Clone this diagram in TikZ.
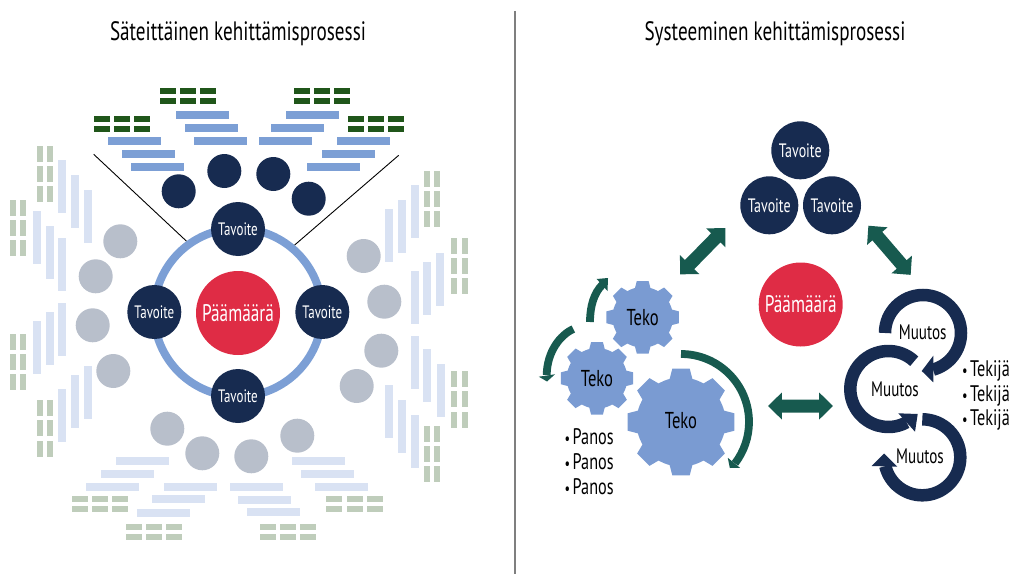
\documentclass[tikz,border=0pt]{standalone}
\usepackage{fontspec}
\setmainfont[FakeStretch=0.72]{PT Sans}
\usetikzlibrary{calc}
\definecolor{navy}{HTML}{172B50}
\definecolor{redc}{HTML}{DF2C45}
\definecolor{barblue}{HTML}{7C9FD5}
\definecolor{gearblue}{HTML}{7A9BD2}
\definecolor{lightblue}{HTML}{D9E2F3}
\definecolor{greyc}{HTML}{B8BFCB}
\definecolor{darkgreen}{HTML}{20561A}
\definecolor{lightgreen}{HTML}{BFCDBB}
\definecolor{teal2}{HTML}{175A4F}
\definecolor{divider}{HTML}{7F7F7F}
\tikzset{
  titletext/.style={font=\fontsize{26.6}{30}\selectfont,text=black,inner sep=0pt},
  bluedisc/.style={circle,fill=navy,inner sep=0pt,minimum size=#1,text=white},
  greydisc/.style={circle,fill=greyc,inner sep=0pt,minimum size=34pt},
  reddisc/.style={circle,fill=redc,inner sep=0pt,minimum size=84pt,text=white,font=\fontsize{24}{26}\selectfont},
  smalltv/.style={font=\fontsize{18}{20}\selectfont},
  bigtv/.style={font=\fontsize{19.4}{22}\selectfont},
  labeltext/.style={font=\fontsize{21}{24}\selectfont,text=black,inner sep=0pt},
  tekotext/.style={font=\fontsize{23}{26}\selectfont,text=black,inner sep=0pt},
  listtext/.style={font=\fontsize{22.5}{26}\selectfont,text=black,inner sep=0pt,anchor=west},
  spoke/.style={draw=black,line width=0.9pt},
  ringline/.style={draw=barblue,line width=8pt},
  tealarc/.style={draw=teal2,line width=7.8pt},
  navyarc/.style={draw=navy,line width=12.5pt},
}
\newcommand\lb{{\fontsize{17}{17}\selectfont •}\hspace{2.5pt}}
\newcommand\hbars[2]{\foreach \bx/\by in {#2} \fill[#1] (\bx,\by) rectangle ++(53,8);}
\newcommand\vbars[2]{\foreach \bx/\by in {#2} \fill[#1] (\bx,\by) rectangle ++(8,53);}
\newcommand\hgreen[3]{\foreach \bx in {#2} \foreach \by in {#3} \fill[#1] (\bx,\by) rectangle ++(16,6);}
\newcommand\vgreen[3]{\foreach \bx in {#2} \foreach \by in {#3} \fill[#1] (\bx,\by) rectangle ++(6,16);}
\newcommand\dblarrow[3]{%
  \begin{scope}[shift={(#1,#2)},rotate=#3]
  \fill[teal2] (-32.4,0) -- (-18.7,13.5) -- (-18.7,6.5) -- (18.7,6.5) -- (18.7,13.5) -- (32.4,0)
    -- (18.7,-13.5) -- (18.7,-6.5) -- (-18.7,-6.5) -- (-18.7,-13.5) -- cycle;
  \end{scope}}
\newcommand\gearshape[3]{%
  \fill[gearblue] (#1,#2) circle [radius=0.825*#3];
  \foreach \ga in {0,45,...,315}
    \fill[gearblue] (#1,#2) -- ++(\ga-15:0.82*#3) -- ($(#1,#2)+(\ga-9.3:#3)$) -- ($(#1,#2)+(\ga+9.3:#3)$) -- ($(#1,#2)+(\ga+15:0.82*#3)$) -- cycle;}
\begin{document}
\begin{tikzpicture}[x=1pt,y=-1pt]
\useasboundingbox (0,0) rectangle (1011,575);
% divider
\coordinate (dtop) at (515,11); \coordinate (dbot) at (515,574);
\draw[divider,line width=1.5pt] (dtop) -- (dbot);
% titles
\node[titletext] (t1) at (238,34) {Säteittäinen kehittämisprosessi};
\node[titletext] (t2) at (775,34) {Systeeminen kehittämisprosessi};
% --- left diagram: bars
\hbars{barblue}{108/137,122/150,131/163,176/111,185/124,194/137,286/111,271/124,259/137,337/137,322/150,307/163}
\hgreen{darkgreen}{160,180,200}{88,98}
\hgreen{darkgreen}{94,114,134}{116,126}
\hgreen{darkgreen}{294,314,334}{88,98}
\hgreen{darkgreen}{348,368,388}{116,126}
\vbars{lightblue}{58/160,71/175,84/190,33/211,46/226,58/238,58/303,46/312,33/321,84/366,71/375,58/389}
\vgreen{lightgreen}{37,47}{146,166,186}
\vgreen{lightgreen}{10,20}{200,220,240}
\vgreen{lightgreen}{10,20}{334,354,374}
\vgreen{lightgreen}{37,47}{400,420,441}
\vbars{lightblue}{385/209,398/200,411/185,411/271,423/262,436/253,411/336,423/349,437/364,385/385,398/400,411/415}
\vgreen{lightgreen}{424,434}{171,191,211}
\vgreen{lightgreen}{451,462}{238,258,278}
\vgreen{lightgreen}{451,462}{371,391,412}
\vgreen{lightgreen}{424,434}{426,446,466}
\hbars{lightblue}{116/457,101/470,86/483,164/483,152/495,137/509,230/483,238/496,247/508,292/457,301/470,315/483}
\hgreen{lightgreen}{72,92,112}{496,506}
\hgreen{lightgreen}{126,146,166}{524,534}
\hgreen{lightgreen}{326,347,367}{496,506}
\hgreen{lightgreen}{260,280,300}{524,534}
% spokes
\coordinate (s1a) at (93.7,154.3); \coordinate (s1b) at (187.7,242.3);
\coordinate (s2a) at (398.7,155.3); \coordinate (s2b) at (292.7,246.7);
\draw[spoke] (s1a) -- (s1b);
\draw[spoke] (s2a) -- (s2b);
% ring
\draw[ringline] (238,312.5) circle [radius=84];
% discs
\node[reddisc] (pm1) at (238,313) {Päämäärä};
\node[bluedisc=54pt,smalltv] (lt) at (238,229) {Tavoite};
\node[bluedisc=54pt,smalltv] (ll) at (154.3,312) {Tavoite};
\node[bluedisc=54pt,smalltv] (lr) at (322.3,312) {Tavoite};
\node[bluedisc=54pt,smalltv] (lb) at (238,396) {Tavoite};
\node[bluedisc=34pt] (d1) at (178.7,191.3) {};
\node[bluedisc=34pt] (d2) at (224.3,171) {};
\node[bluedisc=34pt] (d3) at (273.3,174) {};
\node[bluedisc=34pt] (d4) at (308.7,198.7) {};
\node[greydisc] (g1) at (120.3,241.3) {};
\node[greydisc] (g2) at (95.7,276.3) {};
\node[greydisc] (g3) at (92.7,325.3) {};
\node[greydisc] (g4) at (113.3,371) {};
\node[greydisc] (g5) at (363.7,256) {};
\node[greydisc] (g6) at (384.3,301.7) {};
\node[greydisc] (g7) at (381.3,350.7) {};
\node[greydisc] (g8) at (356.7,386) {};
\node[greydisc] (g9) at (167.3,428.7) {};
\node[greydisc] (g10) at (202.3,453.3) {};
\node[greydisc] (g11) at (251.3,456.3) {};
\node[greydisc] (g12) at (297.3,435.7) {};
% --- right diagram
\node[reddisc] (pm2) at (800.7,304.5) {Päämäärä};
\node[bluedisc=58pt,bigtv] (rt) at (800.3,150.3) {Tavoite};
\node[bluedisc=58pt,bigtv] (rl) at (769.3,205.3) {Tavoite};
\node[bluedisc=58pt,bigtv] (rr) at (832,205.3) {Tavoite};
\dblarrow{702.7}{251.2}{45.6}
\dblarrow{889.5}{250.3}{-49.3}
\dblarrow{800.5}{406}{0}
% gears
\gearshape{642.7}{317.3}{36.7}
\gearshape{597}{378.3}{36.7}
\gearshape{681}{422}{54}
\node[tekotext] (k1) at (642.7,317.3) {Teko};
\node[tekotext] (k2) at (597,378.3) {Teko};
\node[tekotext] (k3) at (681,421) {Teko};
% gear arrows
\draw[tealarc] (590,322) .. controls (590,306) and (594,293) .. (602.5,284.5);
\fill[teal2] (596.7,279) -- (608,278) -- (607.5,291) -- cycle;
\draw[tealarc] (573.3,329) .. controls (560,335) and (547,352) .. (546.7,375);
\fill[teal2] (538.8,376.7) -- (555,374.3) -- (547,381.5) -- cycle;
\draw[tealarc] (681,422) ++(-90:68) arc [start angle=-90,end angle=37.5,radius=68];
\fill[teal2] (727.8,457.8) -- (740,467.8) -- (729.8,468) -- cycle;
% list
\node[listtext] (p1) at (564.5,437) {\lb Panos};
\node[listtext] (p2) at (564.5,462) {\lb Panos};
\node[listtext] (p3) at (564.5,487) {\lb Panos};
% change arcs
\draw[navyarc] (923,333) ++(180:38) arc [start angle=180,end angle=434.7,radius=38];
\fill[navy] (933.3,355.7) -- (933.3,382.3) -- (921.7,371) -- cycle;
\draw[navyarc] (888.3,389) ++(-47:38) arc [start angle=-47,end angle=-298.8,radius=38];
\fill[navy] (898.3,413.3) -- (917.7,414) -- (915,431.7) -- cycle;
\draw[navyarc] (922.3,457.3) ++(-90:38) arc [start angle=-90,end angle=166.6,radius=38];
\fill[navy] (871.7,466) -- (884,453.5) -- (897.3,466.7) -- cycle;
\node[labeltext] (m1) at (922.7,332.7) {Muutos};
\node[labeltext] (m2) at (895,389.3) {Muutos};
\node[labeltext] (m3) at (920,456) {Muutos};
\node[listtext] (w1) at (962,371) {\lb Tekijä};
\node[listtext] (w2) at (962,396) {\lb Tekijä};
\node[listtext] (w3) at (962,420) {\lb Tekijä};
\end{tikzpicture}
\end{document}
